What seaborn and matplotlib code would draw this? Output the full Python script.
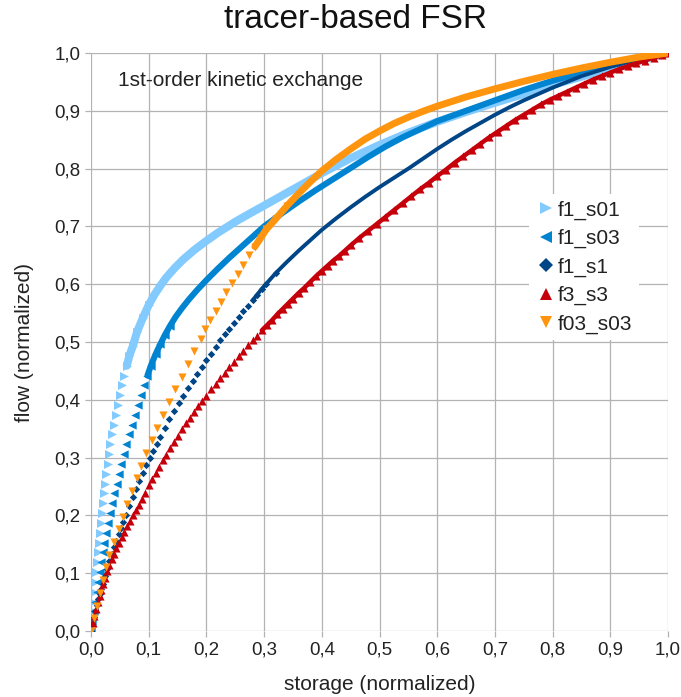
import numpy as np
import pandas as pd
import matplotlib
matplotlib.use("Agg")
import matplotlib.pyplot as plt
from matplotlib.lines import Line2D
import seaborn as sns

# ---------------- data ----------------
series_names = ["f1_s01", "f1_s03", "f1_s1", "f3_s3", "f03_s03"]

f1_s01_x = [0, 0.0014, 0.0029, 0.0043, 0.0058, 0.0072, 0.0087, 0.0102, 0.0118, 0.0134,
            0.015, 0.0167, 0.0185, 0.0203, 0.0222, 0.0243, 0.0265, 0.0288, 0.0312, 0.0337,
            0.0365, 0.0395, 0.0428, 0.0462, 0.0498, 0.0537, 0.0578, 0.0621, 0.0664, 0.0725,
            0.08, 0.09, 0.10, 0.11, 0.12, 0.13, 0.145, 0.16, 0.18, 0.20, 0.22, 0.25, 0.28,
            0.30, 0.35, 0.40, 0.45, 0.50, 0.55, 0.60, 0.65, 0.70, 0.75, 0.80, 0.85, 0.90,
            0.95, 1.0]
f1_s01_y = [0, 0.017, 0.034, 0.051, 0.068, 0.085, 0.102, 0.119, 0.136, 0.153,
            0.17, 0.187, 0.204, 0.221, 0.238, 0.255, 0.272, 0.289, 0.306, 0.323,
            0.34, 0.357, 0.374, 0.391, 0.408, 0.425, 0.442, 0.459, 0.476, 0.493,
            0.518, 0.542, 0.564, 0.582, 0.597, 0.611, 0.628, 0.643, 0.66, 0.675, 0.689,
            0.708, 0.725, 0.736, 0.764, 0.792, 0.818, 0.841, 0.862, 0.881, 0.898, 0.914,
            0.929, 0.945, 0.959, 0.973, 0.987, 1.0]

f1_s03_x = [0, 0.0024, 0.0049, 0.0074, 0.0100, 0.0125, 0.0150, 0.0176, 0.0203, 0.0232,
            0.0261, 0.0293, 0.0327, 0.0363, 0.0403, 0.0444, 0.0486, 0.0528, 0.0571, 0.0615,
            0.0659, 0.0706, 0.0756, 0.0808, 0.0862, 0.0919, 0.0978, 0.1038,
            0.112, 0.12, 0.128, 0.137, 0.147, 0.158, 0.17, 0.184, 0.20, 0.22, 0.24, 0.26,
            0.28, 0.30, 0.33, 0.36, 0.39, 0.42, 0.45, 0.48, 0.51, 0.54, 0.57, 0.60, 0.65,
            0.70, 0.75, 0.80, 0.85, 0.90, 0.95, 1.0]
f1_s03_y = [0, 0.017, 0.034, 0.051, 0.068, 0.085, 0.102, 0.119, 0.136, 0.153,
            0.17, 0.187, 0.204, 0.221, 0.238, 0.255, 0.272, 0.289, 0.306, 0.323,
            0.34, 0.357, 0.374, 0.391, 0.408, 0.425, 0.442, 0.459,
            0.479, 0.496, 0.512, 0.528, 0.544, 0.559, 0.574, 0.59, 0.607, 0.627, 0.646,
            0.664, 0.682, 0.70, 0.722, 0.743, 0.763, 0.782, 0.801, 0.82, 0.838, 0.854,
            0.868, 0.882, 0.90, 0.918, 0.936, 0.952, 0.966, 0.979, 0.99, 1.0]

f1_s1_x = [0, 0.0025, 0.005, 0.0075, 0.01, 0.0125, 0.015, 0.0175, 0.02, 0.024, 0.028,
           0.032, 0.036, 0.04, 0.044, 0.048, 0.052, 0.056, 0.06, 0.066, 0.072, 0.078,
           0.084, 0.09, 0.096, 0.102, 0.108, 0.114, 0.12, 0.128, 0.136, 0.144, 0.152,
           0.16, 0.168, 0.176, 0.184, 0.192, 0.20, 0.208, 0.216, 0.224, 0.232, 0.24,
           0.248, 0.256, 0.264, 0.272, 0.28, 0.288, 0.296, 0.304,
           0.32, 0.34, 0.36, 0.38, 0.40, 0.425, 0.45, 0.475, 0.50, 0.525, 0.55, 0.575,
           0.60, 0.625, 0.65, 0.675, 0.70, 0.725, 0.75, 0.775, 0.80, 0.825, 0.85, 0.875,
           0.90, 0.925, 0.95, 0.975, 1.0]
f1_s1_y = [0, 0.012, 0.024, 0.035, 0.045, 0.055, 0.064, 0.073, 0.082, 0.095, 0.108,
           0.121, 0.133, 0.145, 0.156, 0.167, 0.178, 0.189, 0.20, 0.216, 0.231, 0.246,
           0.26, 0.274, 0.287, 0.299, 0.311, 0.323, 0.336, 0.351, 0.366, 0.38, 0.394,
           0.407, 0.42, 0.432, 0.444, 0.456, 0.468, 0.479, 0.491, 0.503, 0.513, 0.523,
           0.533, 0.543, 0.553, 0.563, 0.572, 0.582, 0.592, 0.601,
           0.619, 0.639, 0.658, 0.676, 0.694, 0.714, 0.733, 0.751, 0.768, 0.784, 0.80,
           0.817, 0.834, 0.85, 0.865, 0.879, 0.893, 0.906, 0.918, 0.929, 0.94, 0.95,
           0.96, 0.968, 0.976, 0.983, 0.99, 0.995, 1.0]

f3_s3_x = [0, 0.003, 0.006, 0.009, 0.012, 0.015, 0.018, 0.021, 0.024, 0.028, 0.032,
           0.036, 0.04, 0.044, 0.048, 0.053, 0.058, 0.063, 0.068, 0.073, 0.078, 0.083,
           0.088, 0.094, 0.10, 0.106, 0.112, 0.118, 0.124, 0.13, 0.137, 0.144, 0.151,
           0.158, 0.165, 0.172, 0.179, 0.186, 0.193, 0.20, 0.208, 0.216, 0.224, 0.232,
           0.24, 0.248, 0.256, 0.264, 0.272, 0.28, 0.288, 0.296, 0.305, 0.314, 0.323,
           0.332, 0.341, 0.35, 0.36, 0.37, 0.38, 0.39, 0.40, 0.41, 0.42, 0.43, 0.44, 0.45,
           0.465, 0.48, 0.495, 0.51, 0.525, 0.54, 0.555, 0.57, 0.585, 0.60, 0.615, 0.63,
           0.645, 0.66, 0.675, 0.69, 0.705, 0.72, 0.735, 0.75, 0.765, 0.78, 0.795, 0.81,
           0.825, 0.84, 0.855, 0.87, 0.885, 0.90, 0.915, 0.93, 0.945, 0.96, 0.975, 0.99,
           1.0]
f3_s3_y = [0, 0.013, 0.026, 0.038, 0.05, 0.061, 0.071, 0.081, 0.091, 0.103, 0.114,
           0.124, 0.134, 0.143, 0.152, 0.162, 0.172, 0.181, 0.191, 0.20, 0.209, 0.218,
           0.228, 0.239, 0.252, 0.263, 0.274, 0.284, 0.295, 0.305, 0.316, 0.327, 0.338,
           0.349, 0.359, 0.369, 0.379, 0.389, 0.398, 0.407, 0.418, 0.428, 0.437, 0.447,
           0.456, 0.466, 0.475, 0.484, 0.494, 0.503, 0.511, 0.52, 0.529, 0.538, 0.548,
           0.557, 0.566, 0.575, 0.585, 0.594, 0.604, 0.614, 0.623, 0.632, 0.641, 0.649,
           0.658, 0.667,
           0.68, 0.692, 0.704, 0.716, 0.728, 0.74, 0.752, 0.764, 0.775, 0.787, 0.798,
           0.81, 0.821, 0.832, 0.843, 0.854, 0.864, 0.874, 0.884, 0.893, 0.902, 0.911,
           0.919, 0.926, 0.933, 0.94, 0.947, 0.954, 0.96, 0.966, 0.972, 0.977, 0.982,
           0.987, 0.992, 0.996, 1.0]

f03_s03_x = [0, 0.005, 0.010, 0.015, 0.020, 0.026, 0.032, 0.040, 0.048, 0.056, 0.063,
             0.071, 0.079, 0.087, 0.096, 0.105, 0.115, 0.125, 0.135, 0.146, 0.157, 0.168,
             0.179, 0.19, 0.198, 0.207, 0.216, 0.225, 0.234, 0.244, 0.254, 0.264, 0.274,
             0.284, 0.294, 0.304,
             0.32, 0.34, 0.36, 0.38, 0.40, 0.425, 0.45, 0.475, 0.50, 0.525, 0.55, 0.575,
             0.60, 0.65, 0.70, 0.75, 0.80, 0.85, 0.90, 0.95, 1.0]
f03_s03_y = [0, 0.022, 0.044, 0.066, 0.088, 0.11, 0.132, 0.154, 0.176, 0.198, 0.22,
             0.242, 0.264, 0.286, 0.308, 0.33, 0.352, 0.374, 0.396, 0.418, 0.44, 0.462,
             0.484, 0.506, 0.522, 0.538, 0.554, 0.570, 0.586, 0.602, 0.618, 0.634, 0.650,
             0.665, 0.680, 0.695,
             0.713, 0.736, 0.757, 0.777, 0.796, 0.816, 0.834, 0.851, 0.865, 0.878, 0.889,
             0.899, 0.908, 0.924, 0.938, 0.951, 0.963, 0.974, 0.984, 0.993, 1.0]

tick_values = [0.0, 0.1, 0.2, 0.3, 0.4, 0.5, 0.6, 0.7, 0.8, 0.9, 1.0]
tick_labels = ["0,0", "0,1", "0,2", "0,3", "0,4", "0,5", "0,6", "0,7", "0,8", "0,9", "1,0"]

title_text = "tracer-based FSR"
note_text = "1st-order kinetic exchange"
x_label = "storage (normalized)"
y_label = "flow (normalized)"

# ---------------- styling ----------------
sns.set_theme(style="white")
plt.rcParams["font.family"] = ["Liberation Sans", "DejaVu Sans"]

data = {
    "f1_s01": (f1_s01_x, f1_s01_y),
    "f1_s03": (f1_s03_x, f1_s03_y),
    "f1_s1": (f1_s1_x, f1_s1_y),
    "f3_s3": (f3_s3_x, f3_s3_y),
    "f03_s03": (f03_s03_x, f03_s03_y),
}
styles = {
    # color, marker, scatter size, band linewidth, band start x, markers end x
    "f1_s01": ("#83caff", ">", 42, 5.8, 0.058, 0.10),
    "f1_s03": ("#0084d1", "<", 36, 4.4, 0.092, 0.14),
    "f1_s1": ("#004586", "D", 14, 2.8, 0.28, 0.33),
    "f3_s3": ("#c5000b", "^", 34, 3.2, 0.29, 1.01),
    "f03_s03": ("#ff950e", "v", 34, 5.0, 0.28, 0.34),
}

fig = plt.figure(figsize=(6.81, 6.97), dpi=100)
ax = fig.add_axes([91 / 681, 1 - 631 / 697, 577 / 681, 578 / 697])

for i, name in enumerate(series_names):
    xs, ys = data[name]
    color, marker, size, lw, band_from, mark_to = styles[name]
    df = pd.DataFrame({"x": xs, "y": ys})
    band = df[df["x"] >= band_from]
    marks = df[df["x"] <= mark_to]
    sns.lineplot(data=band, x="x", y="y", sort=False, estimator=None, color=color,
                 linewidth=lw, ax=ax, zorder=3 + i, solid_capstyle="round")
    sns.scatterplot(data=marks, x="x", y="y", marker=marker, s=size, color=color,
                    linewidth=0, ax=ax, zorder=3 + i, legend=False)

ax.set_xlim(0, 1)
ax.set_ylim(0, 1)
ax.set_xticks(tick_values)
ax.set_xticklabels(tick_labels)
ax.set_yticks(tick_values)
ax.set_yticklabels(tick_labels)
ax.grid(True, color="#b3b3b3", linewidth=0.9)
ax.set_axisbelow(True)
for sp in ax.spines.values():
    sp.set_visible(False)
ax.tick_params(axis="both", which="both", length=4.5, width=0.9, color="#b3b3b3",
               labelsize=13.5, labelcolor="#222222", pad=3, direction="out",
               bottom=True, left=True)
ax.set_xlabel(x_label, fontsize=15, color="#222222", labelpad=12)
ax.set_ylabel(y_label, fontsize=15, color="#222222", labelpad=15)

fig.text(355 / 681, 1 - 20 / 697, title_text, ha="center", va="center", fontsize=24,
         color="#111111")
ax.text((118 - 91) / 577, (631 - 80) / 578, note_text, transform=ax.transAxes,
        ha="left", va="center", fontsize=15, color="#222222", zorder=20)

handles = []
for name in series_names:
    color, marker, size, lw, band_from, mark_to = styles[name]
    handles.append(Line2D([], [], linestyle="none", marker=marker, color=color,
                          markersize=9 if marker != "D" else 7, markeredgewidth=0))
leg = ax.legend(handles, series_names, loc="upper left",
                bbox_to_anchor=((529 - 91) / 577, (631 - 194) / 578),
                frameon=True, fontsize=15, handletextpad=0.1, labelspacing=0.45,
                borderpad=0.3, handlelength=1.0, borderaxespad=0)
leg.get_frame().set_facecolor("white")
leg.get_frame().set_edgecolor("none")
leg.get_frame().set_alpha(1)
leg.set_zorder(30)
for t in leg.get_texts():
    t.set_color("#222222")

fig.savefig("out.png", dpi=100)
